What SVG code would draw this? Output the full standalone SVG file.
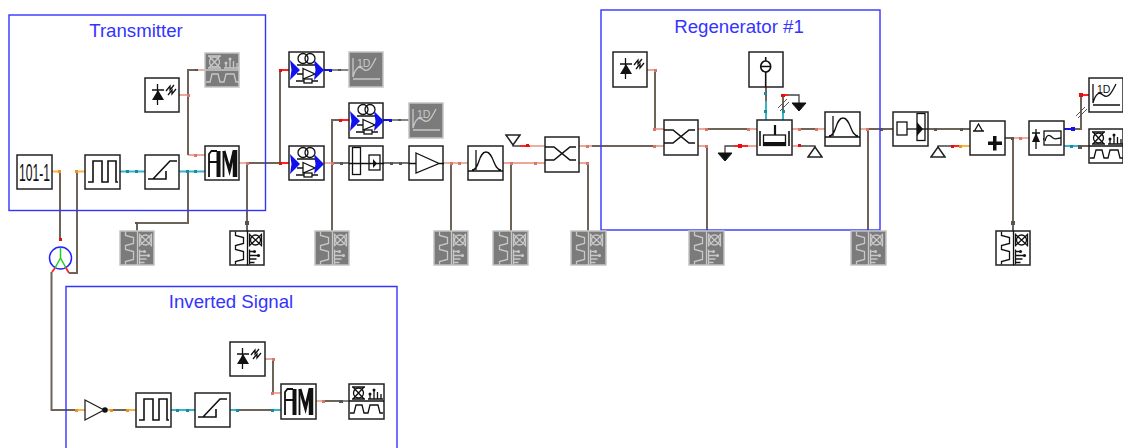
<svg xmlns="http://www.w3.org/2000/svg" width="1123" height="448" viewBox="0 0 1123 448">
<style>
.bg{fill:#fff}
.group{fill:none;stroke:#3434ff;stroke-width:1.4}
.title{font-family:"Liberation Sans",Arial,sans-serif;font-size:18.67px;fill:#3434ff;text-anchor:middle}
.box{fill:#fff;stroke:#222;stroke-width:1.5}
.ghost .box{fill:#7b7b7b;stroke:#c4c4c4;stroke-width:1.5}
.node{color:#111}
.ghost{color:#c8c8c8}
.l{fill:none;stroke:currentColor;stroke-width:1.3}
.l2{fill:none;stroke:currentColor;stroke-width:1.6}
.f{fill:currentColor;stroke:none}
.w,.o,.c,.s,.r,.b,.k,.h{fill:none}
.w{stroke:#6f6358;stroke-width:2}
.k{stroke:#444;stroke-width:1.3}
.h{stroke:#555;stroke-width:1}
.o{stroke:#f6b44a;stroke-width:2}
.c{stroke:#38b4c8;stroke-width:2}
.s{stroke:#eaa898;stroke-width:1.8}
.r{stroke:#f22;stroke-width:2}
.b{stroke:#11e;stroke-width:2}
.do{fill:#e8941c}.dc{fill:#1a8aa0}.ds{fill:#d87868}.dr{fill:#e01010}.db{fill:#11e}.dk{fill:#555}
</style>
<defs>
<symbol id="s-bits" viewBox="0 0 35 35"><text x="17.5" y="25.500" font-family="Liberation Sans,Arial,sans-serif" font-size="24" fill="#111" text-anchor="middle" textLength="31" lengthAdjust="spacingAndGlyphs">101-1</text></symbol>
<symbol id="s-pulse" viewBox="0 0 35 35"><path class="l2" d="M3 27H8V6H17V27H23V6H31V27H33"/></symbol>
<symbol id="s-ramp" viewBox="0 0 35 35"><path class="l2" d="M8 24L25 6H32M3 24H21V16"/></symbol>
<symbol id="s-am" viewBox="0 0 35 35"><path fill="none" stroke="currentColor" stroke-width="1.800" d="M4 31V8L6.500 5H12M4 16H12M18.500 31V5"/><path fill="none" stroke="currentColor" stroke-width="4" d="M13.500 5V31"/><path fill="none" stroke="currentColor" stroke-width="3" d="M19 5L24.500 24L29 5"/><path fill="none" stroke="currentColor" stroke-width="4.500" d="M30 4V31"/></symbol>
<symbol id="s-laser" viewBox="0 0 35 35"><path class="l" d="M12.500 6V27M7 12H19M21 13L25 8V12L29 7M23 17L27 12V16L31 11"/><path class="f" d="M7 22H19L13 12Z"/></symbol>
<symbol id="s-scope" viewBox="0 0 35 35"><path class="l" d="M0 17H35M3 3H16M3 15H16M4 3L15 15M15 3L4 15"/><circle class="l" cx="9.500" cy="9" r="5"/><path class="l" d="M19 15H34M21 15V11M25 15V5M28.500 15V8M32 15V10"/><circle class="f" cx="21" cy="10" r="1.500"/><circle class="f" cx="25" cy="6" r="1.500"/><path class="l" d="M1 29H5L7 21H13L15 29H19L21 21H29L31 29H34"/></symbol>
<symbol id="s-graph" viewBox="0 0 35 35"><text x="8" y="14.500" font-family="Liberation Sans,Arial,sans-serif" font-size="10.500" fill="currentColor">1D</text><path class="l" d="M4 6V25M4 27H31M4 25C7 14 11 14 14 17C19 21 22 16 27 6"/></symbol>
<symbol id="s-edfa" viewBox="0 0 35 35"><circle class="l" cx="14" cy="6.500" r="5"/><circle class="l" cx="21" cy="6.500" r="5"/><path class="l" d="M8 13H27M14 16.500L26 22L14 27ZM8 22H14M26 22H29M7 29H15M23 29H29"/><rect class="l" x="15" y="27" width="8" height="4"/><path d="M1 8L11 18L1 28L2.500 18Z" fill="#11e"/><path d="M25 8L35 18L25 28L26.500 18Z" fill="#11e"/></symbol>
<symbol id="s-iso" viewBox="0 0 35 35"><rect class="l" x="3.500" y="1.500" width="8" height="27"/><rect class="l" x="20" y="9" width="11" height="15"/><path class="l" d="M0 17.500H35"/><path class="f" d="M24 13L28 17.500L24 22Z"/></symbol>
<symbol id="s-iso2" viewBox="0 0 35 35"><rect class="l" x="24" y="1.500" width="8" height="27"/><rect class="l" x="4" y="10" width="10" height="13"/><path class="l" d="M14 17H35"/><path class="f" d="M24 10L30 17L24 24Z"/></symbol>
<symbol id="s-tri" viewBox="0 0 35 35"><path class="l" d="M7 7L30 17.500L7 27ZM0 17.500H7M30 17.500H35"/></symbol>
<symbol id="s-filt" viewBox="0 0 35 35"><path class="l" d="M8 24V4M4 24C12 24 10 6 18 6C26 6 25 24 33 24M0 25H35"/></symbol>
<symbol id="s-coup" viewBox="0 0 35 35"><path class="l2" d="M0 10H9L25 23H31M0 23H9L25 10H31"/></symbol>
<symbol id="s-pump" viewBox="0 0 35 35"><ellipse class="l2" cx="16.700" cy="14.500" rx="5" ry="5.500"/><path class="l2" d="M11.700 14.500H21.700M16.700 5V9M16.700 20V35"/></symbol>
<symbol id="s-soa" viewBox="0 0 35 35"><path fill="none" stroke="currentColor" stroke-width="2.200" d="M18 5V15"/><path class="l2" d="M3 11V26M32 11V26"/><rect class="l" x="6.500" y="15" width="22" height="10.500"/><path class="f" d="M6 22H29V26H6Z"/></symbol>
<symbol id="s-add" viewBox="0 0 35 35"><path class="l" d="M4.500 10L8.500 3L12.500 10ZM3 10H14"/><path class="f" d="M23 15H26.500V20.500H32V24H26.500V29.500H23V24H18V20.500H23Z"/></symbol>
<symbol id="s-rx" viewBox="0 0 35 35"><path class="l" d="M7 8V28M3 12H11M14 18H15"/><path class="f" d="M3 21H11L7 12Z"/><rect class="l" x="15" y="10" width="17" height="14"/><path class="l" d="M16 20C18 11 22 15 24 17C27 19 29 17 32 17"/></symbol>
<symbol id="g-up" viewBox="0 0 16 12"><path d="M1 11H15L8 1Z" fill="#fff" stroke="#222" stroke-width="1.500"/></symbol>
<symbol id="g-fill" viewBox="0 0 16 12"><path d="M1 2H15L8 10Z" fill="#111" stroke="#111"/></symbol>
</defs>
<rect class="bg" width="1123" height="448"/>
<g id="connectors">
<path class="w" d="M60 171V240M77 171V273H69"/><path class="o" d="M52 171.500H60M77 171.500H85"/>
<path class="c" d="M120 171.500H145M179 171.500H205"/>
<path class="w" d="M188 171.500V223H137V231"/>
<path class="s" d="M179 95H188M188 155H205"/><path class="w" d="M188 155V70H198"/><path class="s" d="M197 70H205"/>
<path class="s" d="M239 163H247"/><path class="w" d="M247 163H280M247 163V231M280 163V70"/>
<path class="r" d="M280 70H289M280 163H289"/>
<path class="b" d="M324 70H332"/><path class="k" d="M332 70H349"/>
<path class="b" d="M383 120H392"/><path class="k" d="M392 120H409"/>
<path class="w" d="M332 163V120H340M332 163V231"/><path class="r" d="M340 120H349"/>
<path class="s" d="M324 163H332"/><path class="k" d="M332 163H349M383 163H409"/>
<path class="s" d="M443 163H468"/><path class="w" d="M451 163V231"/>
<path class="s" d="M503 163H545"/><path class="w" d="M511 163V231"/>
<path class="k" d="M513 143V146H520"/><path class="r" d="M520 146H530"/><path class="s" d="M530 146H545"/>
<path class="s" d="M579 146H592M579 163H588"/><path class="w" d="M588 163V231"/><path class="w" d="M592 146H664"/>
<path class="w" d="M655 70V129"/><path class="s" d="M647 70H655M655 129H664M655 146H664"/>
<path class="s" d="M698 129H757M698 146H707"/><path class="w" d="M706 129H750M707 146V231"/>
<path class="w" d="M766 87V111"/><path class="c" d="M766 101V120M783 112V120"/>
<path class="w" d="M783 112V95"/><path class="r" d="M783 95H788"/><path class="k" d="M788 95H799V103"/>
<path class="s" d="M792 129H825M792 146H800M740 146H757"/><path class="w" d="M798 129H816"/>
<path class="r" d="M734 146H748"/><path class="k" d="M725 153V146H734M800 146H815V149"/>
<path class="s" d="M860 129H868"/><path class="w" d="M868 129H893M868 129V231"/>
<path class="w" d="M928 129H970"/>
<path class="k" d="M938 147V146H953"/><path class="r" d="M953 146H960"/><path class="o" d="M960 146H970"/>
<path class="w" d="M1005 138H1013M1013 138V231"/><path class="s" d="M1013 138H1029"/>
<path class="b" d="M1064 129H1072"/><path class="w" d="M1072 129H1081V95"/><path class="r" d="M1081 95H1089"/>
<path class="c" d="M1064 146H1078"/><path class="w" d="M1078 146H1089"/>
<path class="w" d="M51.500 272V410H77"/><path class="o" d="M76 410H85M108 410H136"/><path class="w" d="M110 410H128"/>
<path class="c" d="M171 410H195M230 410H281"/><path class="w" d="M238 410H272"/>
<path class="s" d="M265 359H273M273 393H281"/><path class="w" d="M273 359V393"/>
<path class="s" d="M316 401H324"/><path class="w" d="M324 401H342"/><path class="k" d="M342 401H349"/>
<path class="h" d="M778 108L787 99M780 111L789 102M1076 116L1085 107M1078 118L1087 109"/>
<g class="do"><rect x="58" y="170" width="3" height="3"/><rect x="75" y="170" width="3" height="3"/><rect x="75" y="409" width="3" height="3"/><rect x="126" y="409" width="3" height="3"/><rect x="110" y="409" width="3" height="3"/><rect x="959" y="145" width="3" height="3"/></g>
<g class="dc"><rect x="126" y="170" width="3" height="3"/><rect x="135" y="170" width="3" height="3"/><rect x="186" y="170" width="3" height="3"/><rect x="194" y="170" width="3" height="3"/><rect x="176" y="409" width="3" height="3"/><rect x="186" y="409" width="3" height="3"/><rect x="236" y="409" width="3" height="3"/><rect x="271" y="409" width="3" height="3"/><rect x="764" y="92" width="3" height="3"/><rect x="764" y="110" width="3" height="3"/><rect x="782" y="110" width="3" height="3"/><rect x="1070" y="145" width="3" height="3"/></g>
<g class="ds"><rect x="187" y="94" width="3" height="3"/><rect x="194" y="154" width="3" height="3"/><rect x="246" y="162" width="3" height="3"/><rect x="331" y="162" width="3" height="3"/><rect x="450" y="162" width="3" height="3"/><rect x="458" y="162" width="3" height="3"/><rect x="510" y="162" width="3" height="3"/><rect x="534" y="162" width="3" height="3"/><rect x="586" y="145" width="3" height="3"/><rect x="586" y="162" width="3" height="3"/><rect x="654" y="69" width="3" height="3"/><rect x="653" y="128" width="3" height="3"/><rect x="653" y="145" width="3" height="3"/><rect x="705" y="128" width="3" height="3"/><rect x="705" y="145" width="3" height="3"/><rect x="747" y="128" width="3" height="3"/><rect x="798" y="128" width="3" height="3"/><rect x="815" y="128" width="3" height="3"/><rect x="866" y="128" width="3" height="3"/><rect x="1019" y="137" width="3" height="3"/><rect x="272" y="358" width="3" height="3"/><rect x="271" y="392" width="3" height="3"/><rect x="322" y="400" width="3" height="3"/></g>
<g class="dr"><rect x="59" y="238" width="3" height="3"/><rect x="279" y="69" width="3" height="3"/><rect x="279" y="162" width="3" height="3"/><rect x="339" y="119" width="3" height="3"/><rect x="526" y="144" width="3" height="3"/><rect x="781" y="94" width="4" height="3"/><rect x="738" y="144" width="4" height="4"/><rect x="798" y="144" width="3" height="3"/><rect x="951" y="145" width="3" height="3"/><rect x="1079" y="93" width="4" height="4"/></g>
<g class="db"><rect x="329" y="69" width="3" height="3"/><rect x="389" y="119" width="3" height="3"/><rect x="1071" y="127" width="4" height="4"/></g>
<g class="dk"><rect x="338" y="69" width="3" height="2"/><rect x="398" y="119" width="3" height="2"/><rect x="195" y="69" width="3" height="2"/><rect x="245" y="221" width="4" height="4"/><rect x="135" y="222" width="3" height="2"/><rect x="390" y="162" width="3" height="3"/><rect x="399" y="162" width="3" height="3"/><rect x="340" y="162" width="3" height="3"/><rect x="934" y="128" width="3" height="3"/><rect x="960" y="128" width="3" height="3"/><rect x="1011" y="137" width="3" height="3"/><rect x="1011" y="221" width="4" height="4"/><rect x="1078" y="145" width="4" height="4"/><rect x="880" y="128" width="3" height="3"/><rect x="339" y="400" width="4" height="3"/></g>
</g>
<rect class="group" x="9" y="15" width="256.500" height="195.500"/>
<text class="title" x="136" y="37">Transmitter</text>
<rect class="group" x="601" y="10" width="279" height="220"/>
<text class="title" x="739" y="33">Regenerator #1</text>
<path class="group" d="M66 448V286.500H397V448"/>
<text class="title" x="231" y="308">Inverted Signal</text>
<g id="n-bits" class="node"><rect class="box" x="17" y="155" width="35" height="34"/><use href="#s-bits" x="17" y="155" width="35" height="35"/></g>
<g id="n-pulse" class="node"><rect class="box" x="85" y="155" width="35" height="34"/><use href="#s-pulse" x="85" y="155" width="35" height="35"/></g>
<g id="n-ramp" class="node"><rect class="box" x="145" y="155" width="34" height="34"/><use href="#s-ramp" x="145" y="155" width="35" height="35"/></g>
<g id="n-am" class="node"><rect class="box" x="205" y="146" width="34" height="34"/><use href="#s-am" x="205" y="146" width="35" height="35"/></g>
<g id="n-laser" class="node"><rect class="box" x="145" y="78" width="34" height="34"/><use href="#s-laser" x="145" y="78" width="35" height="35"/></g>
<g id="n-scope1" class="node ghost"><rect class="box" x="205" y="53" width="34" height="34"/><use href="#s-scope" x="205" y="53" width="35" height="35"/></g>
<g id="n-an1" class="node ghost"><rect class="box" x="120" y="231" width="34" height="34"/><use href="#s-scope" transform="rotate(90 137 248)" x="119.500" y="230.500" width="35" height="35"/></g>
<g id="n-an2" class="node"><rect class="box" x="230" y="231" width="34" height="34"/><use href="#s-scope" transform="rotate(90 247 248)" x="229.500" y="230.500" width="35" height="35"/></g>
<g id="n-fork"><circle cx="60.500" cy="258" r="11" fill="#fff" stroke="#22f" stroke-width="1.500"/><path d="M60.500 248V258M60.500 258L55 268M60.500 258L66 268" fill="none" stroke="#2c2" stroke-width="1.500"/><path d="M55 268L52 272M66 268L69 273" stroke="#f22" stroke-width="1.800"/></g>
<g id="n-edfa1" class="node"><rect class="box" x="289" y="52" width="35" height="35"/><use href="#s-edfa" x="289" y="52" width="35" height="35"/></g>
<g id="n-graph1" class="node ghost"><rect class="box" x="349" y="52" width="34" height="35"/><use href="#s-graph" x="349" y="52" width="35" height="35"/></g>
<g id="n-edfa2" class="node"><rect class="box" x="349" y="103" width="34" height="35"/><use href="#s-edfa" x="349" y="103" width="35" height="35"/></g>
<g id="n-graph2" class="node ghost"><rect class="box" x="409" y="103" width="34" height="35"/><use href="#s-graph" x="409" y="103" width="35" height="35"/></g>
<g id="n-edfa3" class="node"><rect class="box" x="289" y="146" width="35" height="34"/><use href="#s-edfa" x="289" y="146" width="35" height="35"/></g>
<g id="n-iso1" class="node"><rect class="box" x="349" y="146" width="34" height="34"/><use href="#s-iso" x="349" y="146" width="35" height="35"/></g>
<g id="n-amp" class="node"><rect class="box" x="409" y="146" width="34" height="34"/><use href="#s-tri" x="409" y="146" width="35" height="35"/></g>
<g id="n-filt1" class="node"><rect class="box" x="468" y="146" width="35" height="34"/><use href="#s-filt" x="468" y="146" width="35" height="35"/></g>
<use id="n-gnd1" href="#g-up" transform="rotate(180 513 140)" x="505" y="134" width="16" height="12"/>
<g id="n-coup1" class="node"><rect class="box" x="545" y="137" width="34" height="35"/><use href="#s-coup" x="545" y="137" width="35" height="35"/></g>
<g id="n-an3" class="node ghost"><rect class="box" x="315" y="231" width="34" height="34"/><use href="#s-scope" transform="rotate(90 332 248)" x="314.500" y="230.500" width="35" height="35"/></g>
<g id="n-an4" class="node ghost"><rect class="box" x="434" y="231" width="34" height="34"/><use href="#s-scope" transform="rotate(90 451 248)" x="433.500" y="230.500" width="35" height="35"/></g>
<g id="n-an5" class="node ghost"><rect class="box" x="493" y="231" width="35" height="34"/><use href="#s-scope" transform="rotate(90 511 248)" x="493.500" y="230.500" width="35" height="35"/></g>
<g id="n-an6" class="node ghost"><rect class="box" x="571" y="231" width="35" height="34"/><use href="#s-scope" transform="rotate(90 588 248)" x="570.500" y="230.500" width="35" height="35"/></g>
<g id="n-laser2" class="node"><rect class="box" x="613" y="52" width="34" height="35"/><use href="#s-laser" x="613" y="52" width="35" height="35"/></g>
<g id="n-coup2" class="node"><rect class="box" x="664" y="120" width="34" height="35"/><use href="#s-coup" x="664" y="120" width="35" height="35"/></g>
<g id="n-pump" class="node"><rect class="box" x="749" y="52" width="34" height="35"/><use href="#s-pump" x="749" y="52" width="35" height="35"/></g>
<g id="n-soa" class="node"><rect class="box" x="757" y="120" width="35" height="35"/><use href="#s-soa" x="757" y="120" width="35" height="35"/></g>
<g id="n-filt2" class="node"><rect class="box" x="825" y="112" width="35" height="34"/><use href="#s-filt" x="825" y="112" width="35" height="35"/></g>
<use id="n-gnd2" href="#g-fill" x="791" y="101" width="16" height="12"/>
<use id="n-gnd3" href="#g-fill" x="717" y="151" width="16" height="12"/>
<use id="n-gnd4" href="#g-up" x="807" y="146" width="16" height="12"/>
<g id="n-an7" class="node ghost"><rect class="box" x="689" y="231" width="35" height="34"/><use href="#s-scope" transform="rotate(90 706 248)" x="688.500" y="230.500" width="35" height="35"/></g>
<g id="n-an8" class="node ghost"><rect class="box" x="851" y="231" width="35" height="34"/><use href="#s-scope" transform="rotate(90 868 248)" x="850.500" y="230.500" width="35" height="35"/></g>
<g id="n-iso3" class="node"><rect class="box" x="893" y="112" width="35" height="34"/><use href="#s-iso2" x="893" y="112" width="35" height="35"/></g>
<use id="n-gnd5" href="#g-up" x="930" y="146" width="16" height="12"/>
<g id="n-add" class="node"><rect class="box" x="970" y="121" width="35" height="34"/><use href="#s-add" x="970" y="121" width="35" height="35"/></g>
<g id="n-rx" class="node"><rect class="box" x="1029" y="121" width="35" height="34"/><use href="#s-rx" x="1029" y="121" width="35" height="35"/></g>
<g id="n-graph3" class="node"><rect class="box" x="1089" y="78" width="34" height="34"/><use href="#s-graph" x="1089" y="78" width="35" height="35"/></g>
<g id="n-scope2" class="node"><rect class="box" x="1089" y="129" width="34" height="34"/><use href="#s-scope" x="1089" y="129" width="35" height="35"/></g>
<g id="n-an9" class="node"><rect class="box" x="996" y="231" width="34" height="34"/><use href="#s-scope" transform="rotate(90 1013 248)" x="995.500" y="230.500" width="35" height="35"/></g>
<g id="n-inv" class="node"><path d="M85 400L104 410L85 420Z" fill="#fff" stroke="#222" stroke-width="1.300"/><circle cx="105" cy="410" r="2.800" fill="#111"/></g>
<g id="n-pulse2" class="node"><rect class="box" x="136" y="393" width="35" height="34"/><use href="#s-pulse" x="136" y="393" width="35" height="35"/></g>
<g id="n-ramp2" class="node"><rect class="box" x="195" y="393" width="35" height="34"/><use href="#s-ramp" x="195" y="393" width="35" height="35"/></g>
<g id="n-laser3" class="node"><rect class="box" x="230" y="342" width="35" height="34"/><use href="#s-laser" x="230" y="342" width="35" height="35"/></g>
<g id="n-am2" class="node"><rect class="box" x="281" y="384" width="35" height="35"/><use href="#s-am" x="281" y="384" width="35" height="35"/></g>
<g id="n-scope3" class="node"><rect class="box" x="349" y="384" width="35" height="35"/><use href="#s-scope" x="349" y="384" width="35" height="35"/></g>
</svg>
